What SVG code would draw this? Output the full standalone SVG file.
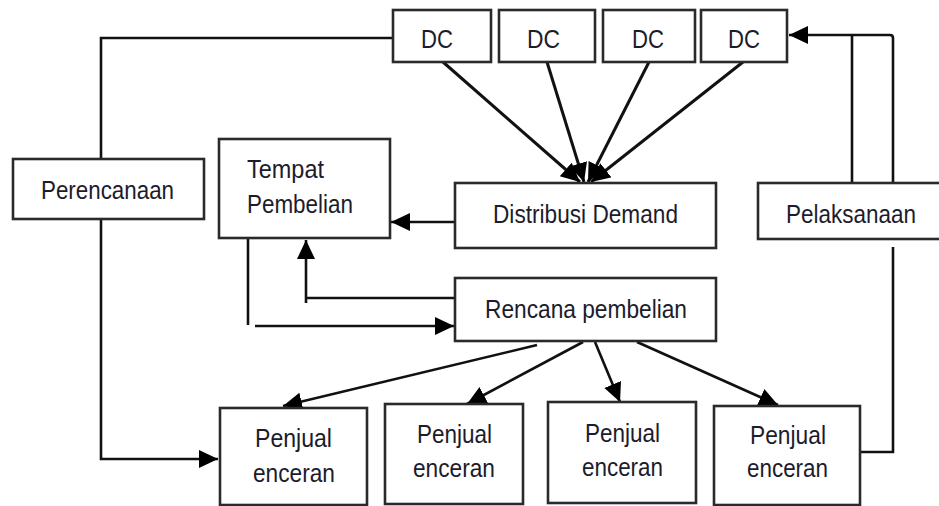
<svg xmlns="http://www.w3.org/2000/svg" width="939" height="506" viewBox="0 0 939 506">
<defs>
<style>
.box{fill:#fff;stroke:#2a2a2a;stroke-width:2.6}
.t{font-family:"Liberation Sans",Arial,sans-serif;font-size:25px;fill:#1c1c2c}
.c{fill:none;stroke:#111;stroke-width:2.6}
.cd{fill:none;stroke:#111;stroke-width:3}
</style>
<marker id="ah" markerUnits="userSpaceOnUse" markerWidth="22" markerHeight="20" refX="19" refY="9" orient="auto">
<path d="M0,0 L19,9 L0,18 z" fill="#000"/>
</marker>
</defs>
<rect width="939" height="506" fill="#fff"/>

<g id="connectors">
<path class="c" d="M101,159 V38 H393"/>
<path class="c" d="M101,219 V459 H218" marker-end="url(#ah)"/>
<path class="cd" d="M443,62 L580,182" marker-end="url(#ah)"/>
<path class="cd" d="M547,62 L584,182" marker-end="url(#ah)"/>
<path class="cd" d="M649,62 L588,182" marker-end="url(#ah)"/>
<path class="cd" d="M743,62 L591,182" marker-end="url(#ah)"/>
<path class="c" d="M455,222 H391" marker-end="url(#ah)"/>
<path class="c" d="M455,298 H306 V303 M306,298 V240" marker-end="url(#ah)"/>
<path class="c" d="M248,238 V325"/>
<path class="c" d="M255,326 H454" marker-end="url(#ah)"/>
<path class="c" d="M537,345 L283,406" marker-end="url(#ah)"/>
<path class="c" d="M583,342 L467,404" marker-end="url(#ah)"/>
<path class="c" d="M595,342 L620,402" marker-end="url(#ah)"/>
<path class="c" d="M637,342 L778,405" marker-end="url(#ah)"/>
<path class="c" d="M860,452 H893 V247"/>
<path class="c" d="M852,183 V35"/>
<path class="c" d="M893,183 V38 Q893,35 890,35 H789" marker-end="url(#ah)"/>
</g>

<g id="dc1"><rect class="box" x="393" y="10" width="98" height="52"/><text class="t" x="421" y="48" font-size="23" textLength="32" lengthAdjust="spacingAndGlyphs">DC</text></g>
<g id="dc2"><rect class="box" x="499" y="10" width="96" height="52"/><text class="t" x="527" y="48" font-size="23" textLength="33" lengthAdjust="spacingAndGlyphs">DC</text></g>
<g id="dc3"><rect class="box" x="603" y="10" width="92" height="52"/><text class="t" x="632" y="48" font-size="23" textLength="32" lengthAdjust="spacingAndGlyphs">DC</text></g>
<g id="dc4"><rect class="box" x="701" y="10" width="86" height="52"/><text class="t" x="728" y="48" font-size="23" textLength="32" lengthAdjust="spacingAndGlyphs">DC</text></g>

<g id="perencanaan"><rect class="box" x="13" y="159" width="191" height="60"/><text class="t" x="41" y="199" textLength="133" lengthAdjust="spacingAndGlyphs">Perencanaan</text></g>

<g id="tempat-pembelian"><rect class="box" x="219" y="139" width="171" height="99"/>
<text class="t" x="247" y="178" textLength="77" lengthAdjust="spacingAndGlyphs">Tempat</text>
<text class="t" x="247" y="213" textLength="106" lengthAdjust="spacingAndGlyphs">Pembelian</text></g>

<g id="distribusi-demand"><rect class="box" x="455" y="183" width="261" height="65"/><text class="t" x="493" y="223" textLength="185" lengthAdjust="spacingAndGlyphs">Distribusi Demand</text></g>

<g id="pelaksanaan"><rect class="box" x="758" y="183" width="190" height="56"/><text class="t" x="786" y="223" textLength="130" lengthAdjust="spacingAndGlyphs">Pelaksanaan</text></g>

<g id="rencana-pembelian"><rect class="box" x="455" y="278" width="261" height="63"/><text class="t" x="485" y="318" textLength="202" lengthAdjust="spacingAndGlyphs">Rencana pembelian</text></g>

<g id="penjual1"><rect class="box" x="220" y="408" width="147" height="97"/>
<text class="t" x="255" y="447" textLength="77" lengthAdjust="spacingAndGlyphs">Penjual</text>
<text class="t" x="253" y="482" textLength="82" lengthAdjust="spacingAndGlyphs">enceran</text></g>

<g id="penjual2"><rect class="box" x="385" y="404" width="138" height="100"/>
<text class="t" x="417" y="443" textLength="75" lengthAdjust="spacingAndGlyphs">Penjual</text>
<text class="t" x="413" y="477" textLength="82" lengthAdjust="spacingAndGlyphs">enceran</text></g>

<g id="penjual3"><rect class="box" x="548" y="402" width="148" height="101"/>
<text class="t" x="585" y="442" textLength="75" lengthAdjust="spacingAndGlyphs">Penjual</text>
<text class="t" x="582" y="476" textLength="81" lengthAdjust="spacingAndGlyphs">enceran</text></g>

<g id="penjual4"><rect class="box" x="714" y="406" width="146" height="99"/>
<text class="t" x="750" y="444" textLength="76" lengthAdjust="spacingAndGlyphs">Penjual</text>
<text class="t" x="747" y="477" textLength="81" lengthAdjust="spacingAndGlyphs">enceran</text></g>
</svg>
